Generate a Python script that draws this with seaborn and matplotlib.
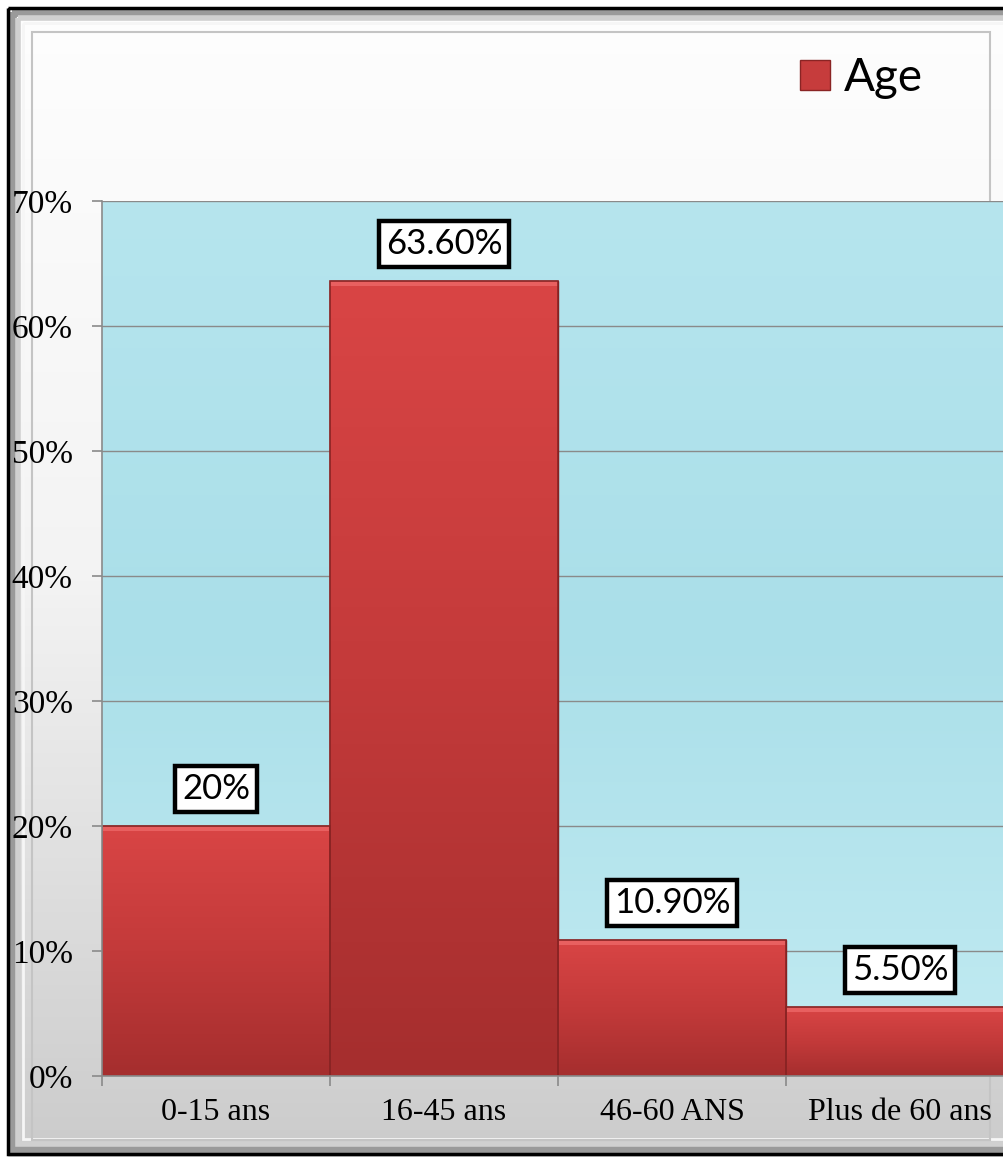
import numpy as np
import pandas as pd
import matplotlib
matplotlib.use("Agg")
import matplotlib.pyplot as plt
import seaborn as sns
from matplotlib.patches import Rectangle, Patch
from matplotlib.colors import LinearSegmentedColormap
from matplotlib.ticker import FuncFormatter, FixedLocator

categories = ["0-15 ans", "16-45 ans", "46-60 ANS", "Plus de 60 ans"]
values = [0.20, 0.636, 0.109, 0.055]
value_labels = ["20%", "63.60%", "10.90%", "5.50%"]
series_name = "Age"
y_ticks = [0.0, 0.1, 0.2, 0.3, 0.4, 0.5, 0.6, 0.7]

sns.set_theme(style="white")
W, H = 1004, 1162
fig = plt.figure(figsize=(W / 100, H / 100), dpi=100)

# ---- background frame ----
bg = fig.add_axes([0, 0, 1, 1], zorder=-10)
bg.set_xlim(0, W)
bg.set_ylim(H, 0)
bg.axis("off")
grad = np.linspace(0, 1, 256).reshape(-1, 1)
bg_cmap = LinearSegmentedColormap.from_list("bg", ["#fefefe", "#f3f3f3", "#cbcbcb"])
bg.imshow(grad, extent=[0, W, H, 0], cmap=bg_cmap, aspect="auto")
bg.add_patch(Rectangle((0, 0), 7, H, color="white", zorder=1))
bg.add_patch(Rectangle((0, 0), W, 7, color="white", zorder=1))
bg.add_patch(Rectangle((0, H - 5), W, 5, color="white", zorder=1))
# bevel bands
bg.add_patch(Rectangle((12, 12), W + 10, H - 24, fill=False, ec="#9a9a9a", lw=7, zorder=2))
bg.add_patch(Rectangle((18, 18), W, H - 36, fill=False, ec="#d0d0d0", lw=4, zorder=2))
bg.add_patch(Rectangle((23, 23), W - 8, H - 46, fill=False, ec="#f6f6f6", lw=2, zorder=2))
bg.add_patch(Rectangle((8, 8), W + 10, H - 16, fill=False, ec="black", lw=2.5, zorder=3))
bg.add_patch(Rectangle((32, 32), 958, 1108, fill=False, ec="#c4c4c4", lw=1.5, zorder=3))

# ---- chart axes ----
ax = fig.add_axes([102 / W, (H - 1076) / H, 912 / W, 875 / H])
df = pd.DataFrame({"cat": categories, "val": values})
sns.barplot(data=df, x="cat", y="val", order=categories, width=1.0,
            color="#c43b3b", edgecolor="#7a1e1e", linewidth=1.0, ax=ax, zorder=3)
ax.set_xlim(-0.5, 3.5)
ax.set_ylim(0, 0.7)

# water-ish background
water = LinearSegmentedColormap.from_list("w", ["#c2ebf2", "#aadfe9", "#b6e5ee"])
ax.imshow(np.linspace(0, 1, 256).reshape(-1, 1), extent=[-0.5, 3.5, 0.7, 0],
          cmap=water, aspect="auto", zorder=0, origin="upper")
ax.set_ylim(0, 0.7)

# bar gradients
bar_cmap = LinearSegmentedColormap.from_list("bar", ["#a52e2e", "#c33a3a", "#d94545"])
for p in ax.patches:
    x0, y0 = p.get_x(), p.get_y()
    w, h = p.get_width(), p.get_height()
    im = ax.imshow(np.linspace(0, 1, 256).reshape(-1, 1), extent=[x0, x0 + w, y0, y0 + h],
                   cmap=bar_cmap, aspect="auto", origin="lower", zorder=3.5)
    im.set_clip_path(p)
    ax.add_patch(Rectangle((x0, y0 + h - 0.004), w, 0.004, color="#e86060", zorder=3.6, lw=0))
    ax.add_patch(Rectangle((x0, y0), w, h, fill=False, ec="#8a2424", lw=1.2, zorder=3.7))

ax.yaxis.set_major_locator(FixedLocator(y_ticks))
ax.yaxis.set_major_formatter(FuncFormatter(lambda v, _: f"{v*100:.0f}%"))
ax.grid(axis="y", color="#8a8a8a", lw=1.0, zorder=1)
ax.set_axisbelow(True)
for s in ["top", "right"]:
    ax.spines[s].set_visible(False)
for s in ["left", "bottom"]:
    ax.spines[s].set_color("#8a8a8a")
    ax.spines[s].set_linewidth(1.2)
    ax.spines[s].set_zorder(5)
ax.set_xlabel("")
ax.set_ylabel("")

ax.tick_params(axis="y", which="major", length=7, width=1.2, color="#8a8a8a",
               direction="out", pad=14, left=True, labelsize=24,
               labelfontfamily="Liberation Serif", labelcolor="black")
ax.tick_params(axis="x", which="major", length=0, pad=16, labelsize=23,
               labelfontfamily="Liberation Serif", labelcolor="black")
ax.set_xticks(np.arange(-0.5, 4.0, 1.0), minor=True)
ax.tick_params(axis="x", which="minor", length=7, width=1.2, color="#8a8a8a",
               direction="out", bottom=True)

# value labels
for i, (v, t) in enumerate(zip(values, value_labels)):
    ax.annotate(t, xy=(i, v), xytext=(0, 15), textcoords="offset points",
                ha="center", va="bottom", fontsize=25, family="Lato", color="black",
                zorder=10,
                bbox=dict(boxstyle="square,pad=0.2", fc="white", ec="black", lw=3.2))

# legend
handle = Patch(facecolor="#c63c3c", edgecolor="#8a2424", lw=1)
leg = fig.legend([handle], [series_name], loc="center left", bbox_to_anchor=(800 / W, 1 - 78 / H),
                 frameon=False, prop={"family": "Lato", "size": 33}, handlelength=0.65,
                 handleheight=0.65, handletextpad=0.3, borderpad=0, borderaxespad=0)
for t in leg.get_texts():
    t.set_color("black")

fig.savefig("out.png", dpi=100)
